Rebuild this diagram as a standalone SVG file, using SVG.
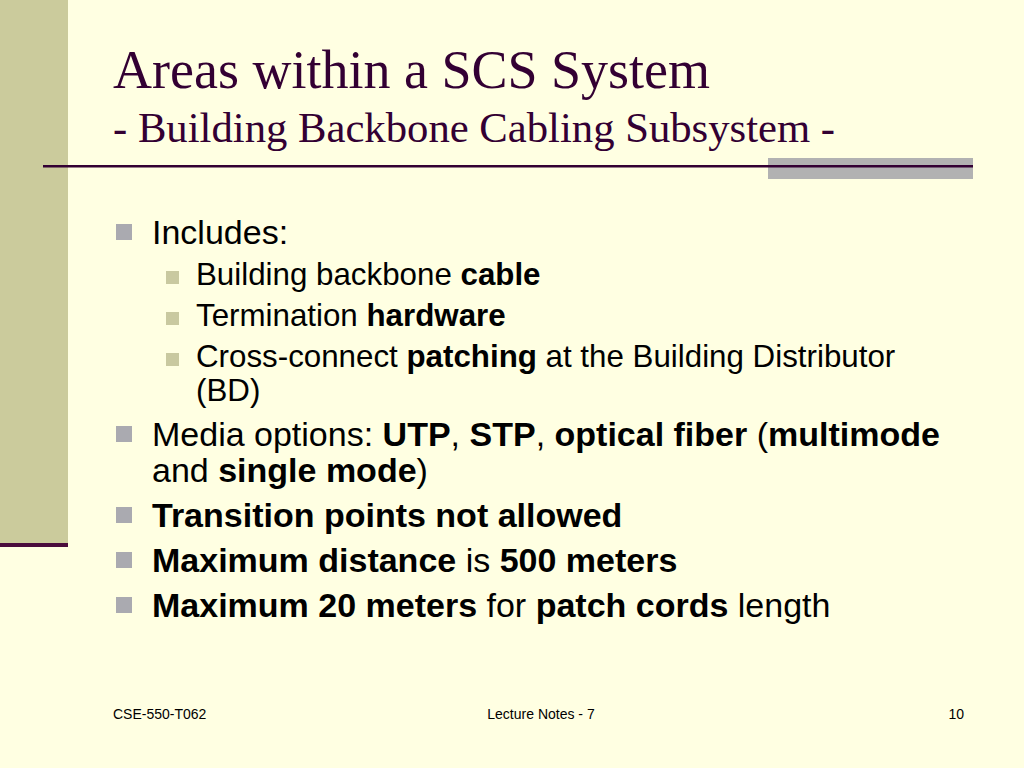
<svg xmlns="http://www.w3.org/2000/svg" width="1024" height="768" viewBox="0 0 1024 768">
<style>
.title{font-family:"Liberation Serif","Times New Roman",serif;fill:#330033}
.body{font-family:"Liberation Sans",Arial,sans-serif;fill:#000000}
.l1{font-size:34px}
.l2{font-size:31.3px}
.b{font-weight:bold}
.foot{font-family:"Liberation Sans",Arial,sans-serif;font-size:14px;fill:#000000}
.bul1{fill:#AAAAB0}
.bul2{fill:#C9C9A0}
</style>
<rect x="0" y="0" width="1024" height="768" fill="#FFFFE2"/>
<g id="decor">
<rect x="0" y="0" width="68" height="544" fill="#CBCB9C"/>
<rect x="0" y="543" width="68" height="4" fill="#4A0C3C"/>
<rect x="768" y="158" width="205" height="21" fill="#B2B2B2"/>
<rect x="43" y="165" width="930" height="2.5" fill="#330033"/>
</g>
<g id="title">
<text class="title" x="113" y="88" font-size="54">Areas within a SCS System</text>
<text class="title" x="113" y="142" font-size="42.7">- Building Backbone Cabling Subsystem -</text>
</g>
<g id="bullets">
<rect class="bul1" x="116" y="224" width="16" height="16"/>
<text class="body l1" x="152" y="244">Includes:</text>
<rect class="bul2" x="166" y="271" width="13" height="13"/>
<text class="body l2" x="196" y="285">Building backbone <tspan class="b">cable</tspan></text>
<rect class="bul2" x="166" y="312" width="13" height="13"/>
<text class="body l2" x="196" y="326">Termination <tspan class="b">hardware</tspan></text>
<rect class="bul2" x="166" y="353" width="13" height="13"/>
<text class="body l2" x="196" y="367">Cross-connect <tspan class="b">patching</tspan> at the Building Distributor</text>
<text class="body l2" x="196" y="401">(BD)</text>
<rect class="bul1" x="116" y="426" width="16" height="16"/>
<text class="body l1" x="152" y="446">Media options: <tspan class="b">UTP</tspan>, <tspan class="b">STP</tspan>, <tspan class="b">optical fiber</tspan> (<tspan class="b">multimode</tspan></text>
<text class="body l1" x="152" y="482">and <tspan class="b">single mode</tspan>)</text>
<rect class="bul1" x="116" y="507" width="16" height="16"/>
<text class="body l1 b" x="152" y="527">Transition points not allowed</text>
<rect class="bul1" x="116" y="552" width="16" height="16"/>
<text class="body l1" x="152" y="572"><tspan class="b">Maximum distance</tspan> is <tspan class="b">500 meters</tspan></text>
<rect class="bul1" x="116" y="597" width="16" height="16"/>
<text class="body l1" x="152" y="617"><tspan class="b">Maximum 20 meters</tspan> for <tspan class="b">patch cords</tspan> length</text>
</g>
<g id="footer">
<text class="foot" x="113" y="719">CSE-550-T062</text>
<text class="foot" x="541" y="719" text-anchor="middle">Lecture Notes - 7</text>
<text class="foot" x="964" y="719" text-anchor="end">10</text>
</g>
</svg>
